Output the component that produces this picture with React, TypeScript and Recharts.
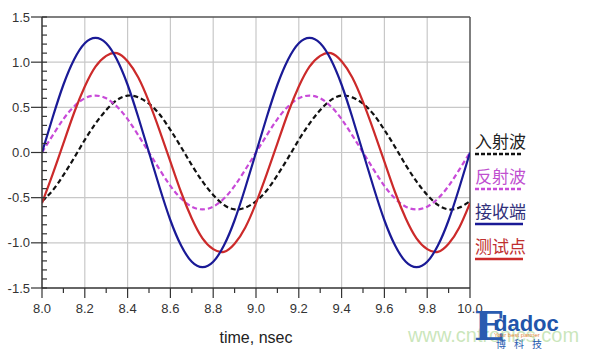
import { LineChart, Line, XAxis, YAxis, CartesianGrid, ReferenceLine, Label } from "recharts"

// time axis (ns), sampled every 0.05
const times = [
  8.0, 8.05, 8.1, 8.15, 8.2, 8.25, 8.3, 8.35, 8.4, 8.45,
  8.5, 8.55, 8.6, 8.65, 8.7, 8.75, 8.8, 8.85, 8.9, 8.95,
  9.0, 9.05, 9.1, 9.15, 9.2, 9.25, 9.3, 9.35, 9.4, 9.45,
  9.5, 9.55, 9.6, 9.65, 9.7, 9.75, 9.8, 9.85, 9.9, 9.95,
  10.0,
]

// 入射波
const incident = [
  -0.54, -0.42, -0.25, -0.06, 0.14, 0.32, 0.47, 0.58, 0.63, 0.61,
  0.54, 0.42, 0.25, 0.06, -0.14, -0.32, -0.47, -0.58, -0.63, -0.61,
  -0.54, -0.42, -0.25, -0.06, 0.14, 0.32, 0.47, 0.58, 0.63, 0.61,
  0.54, 0.42, 0.25, 0.06, -0.14, -0.32, -0.47, -0.58, -0.63, -0.61,
  -0.54,
]

// 反射波
const reflected = [
  0, 0.19, 0.37, 0.51, 0.6, 0.63, 0.6, 0.51, 0.37, 0.19,
  0, -0.19, -0.37, -0.51, -0.6, -0.63, -0.6, -0.51, -0.37, -0.19,
  0, 0.19, 0.37, 0.51, 0.6, 0.63, 0.6, 0.51, 0.37, 0.19,
  0, -0.19, -0.37, -0.51, -0.6, -0.63, -0.6, -0.51, -0.37, -0.19,
  0,
]

// 接收端
const receiver = [
  0, 0.39, 0.75, 1.03, 1.21, 1.27, 1.21, 1.03, 0.75, 0.39,
  0, -0.39, -0.75, -1.03, -1.21, -1.27, -1.21, -1.03, -0.75, -0.39,
  0, 0.39, 0.75, 1.03, 1.21, 1.27, 1.21, 1.03, 0.75, 0.39,
  0, -0.39, -0.75, -1.03, -1.21, -1.27, -1.21, -1.03, -0.75, -0.39,
  0,
]

// 测试点
const testPoint = [
  -0.56, -0.24, 0.1, 0.44, 0.73, 0.95, 1.07, 1.1, 1.01, 0.83,
  0.56, 0.24, -0.1, -0.44, -0.73, -0.95, -1.07, -1.1, -1.01, -0.83,
  -0.56, -0.24, 0.1, 0.44, 0.73, 0.95, 1.07, 1.1, 1.01, 0.83,
  0.56, 0.24, -0.1, -0.44, -0.73, -0.95, -1.07, -1.1, -1.01, -0.83,
  -0.56,
]

const xTicks = [
  8.0, 8.1, 8.2, 8.3, 8.4, 8.5, 8.6, 8.7, 8.8, 8.9,
  9.0, 9.1, 9.2, 9.3, 9.4, 9.5, 9.6, 9.7, 9.8, 9.9, 10.0,
]
const xMajor = [8.2, 8.4, 8.6, 8.8, 9.0, 9.2, 9.4, 9.6, 9.8]

const yTicks = [
  -1.5, -1.4, -1.3, -1.2, -1.1, -1.0, -0.9, -0.8, -0.7, -0.6,
  -0.5, -0.4, -0.3, -0.2, -0.1, 0, 0.1, 0.2, 0.3, 0.4,
  0.5, 0.6, 0.7, 0.8, 0.9, 1.0, 1.1, 1.2, 1.3, 1.4, 1.5,
]
const yMajor = [-1.0, -0.5, 0, 0.5, 1.0]

const series = [
  { key: "incident", name: "入射波", color: "#111111", text: "#222222", dash: "5 3" },
  { key: "reflected", name: "反射波", color: "#c84ad8", text: "#c050d0", dash: "5 3" },
  { key: "testPoint", name: "测试点", color: "#cc2a2a", text: "#c03030", dash: undefined },
  { key: "receiver", name: "接收端", color: "#1a1a96", text: "#30307a", dash: undefined },
]
const legendOrder = ["incident", "reflected", "receiver", "testPoint"]

const data = times.map((t, i) => ({
  t,
  incident: incident[i],
  reflected: reflected[i],
  receiver: receiver[i],
  testPoint: testPoint[i],
}))

const X_MIN = 8
const X_MAX = 10
const Y_MIN = -1.5
const Y_MAX = 1.5

const XTick = (props: any) => {
  const { x, y, payload } = props
  const v = payload.value as number
  const major = Math.round(v * 10) % 2 === 0
  return (
    <g>
      <line x1={x} x2={x} y1={y} y2={y + (major ? 10 : 5)} stroke="#333" strokeWidth={1.2} />
      {major && (
        <text x={x} y={y + 25} textAnchor="middle" fontSize={13} fill="#333">
          {v.toFixed(1)}
        </text>
      )}
    </g>
  )
}

const YTick = (props: any) => {
  const { x, y, payload } = props
  const v = payload.value as number
  const major = Math.round(v * 10) % 5 === 0
  if (!major) {
    return <line x1={x} x2={x + 5} y1={y} y2={y} stroke="#333" strokeWidth={1.2} />
  }
  return (
    <g>
      <line x1={x - 11} x2={x + 5} y1={y} y2={y} stroke="#333" strokeWidth={1.2} />
      <text x={x - 12} y={y + 4.5} textAnchor="end" fontSize={13} fill="#333">
        {v.toFixed(1)}
      </text>
    </g>
  )
}

export default function App() {
  return (
    <div
      style={{
        position: "absolute",
        left: 0,
        top: 0,
        width: 592,
        height: 354,
        background: "#fff",
        fontFamily: '"Liberation Sans", Arial, sans-serif',
        overflow: "hidden",
      }}
    >
      <LineChart width={592} height={354} data={data} margin={{ top: 17, right: 122, bottom: 0, left: 0 }}>
        <CartesianGrid
          stroke="#c8c8c8"
          strokeWidth={1.2}
          verticalCoordinatesGenerator={({ offset }: any) =>
            xMajor.map((v) => offset.left + ((v - X_MIN) / (X_MAX - X_MIN)) * offset.width)
          }
          horizontalCoordinatesGenerator={({ offset }: any) =>
            yMajor.map((v) => offset.top + ((Y_MAX - v) / (Y_MAX - Y_MIN)) * offset.height)
          }
        />
        <XAxis
          dataKey="t"
          type="number"
          domain={[X_MIN, X_MAX]}
          ticks={xTicks}
          interval={0}
          tickSize={0}
          tickMargin={0}
          tickLine={false}
          tick={XTick}
          height={66}
          stroke="#333"
          strokeWidth={1.5}
          allowDataOverflow
        >
          <Label value="time, nsec" position="insideBottom" offset={11} fontSize={16} fill="#222" />
        </XAxis>
        <YAxis
          type="number"
          domain={[Y_MIN, Y_MAX]}
          ticks={yTicks}
          interval={0}
          width={42}
          tickSize={0}
          tickMargin={0}
          tickLine={false}
          tick={YTick}
          stroke="#333"
          strokeWidth={1.5}
          allowDataOverflow
        />
        <ReferenceLine y={Y_MAX} stroke="#555" strokeWidth={1.5} />
        <ReferenceLine x={X_MAX} stroke="#555" strokeWidth={1.5} />
        {series.map((s) => (
          <Line
            key={s.key}
            dataKey={s.key}
            name={s.name}
            type="natural"
            stroke={s.color}
            strokeWidth={2.2}
            strokeDasharray={s.dash}
            dot={false}
            activeDot={false}
            isAnimationActive={false}
          />
        ))}
      </LineChart>

      <div style={{ position: "absolute", left: 475, top: 130 }}>
        {legendOrder.map((k) => {
          const s = series.find((x) => x.key === k)!
          return (
            <div key={k} style={{ position: "relative", height: 35, width: 60 }}>
              <div
                style={{
                  fontFamily: '"Noto Sans CJK SC", sans-serif',
                  fontSize: 17,
                  lineHeight: "22px",
                  color: s.text,
                }}
              >
                {s.name}
              </div>
              <svg width={50} height={4} style={{ position: "absolute", left: 0, top: 22 }}>
                <line x1={0} x2={48} y1={2} y2={2} stroke={s.color} strokeWidth={2.5} strokeDasharray={s.dash ? "4 2" : undefined} />
              </svg>
            </div>
          )
        })}
      </div>

      <div
        style={{
          position: "absolute",
          left: 408,
          top: 324,
          fontSize: 20,
          color: "rgba(150, 205, 120, 0.5)",
          whiteSpace: "nowrap",
        }}
      >
        www.cntronics.com
      </div>
      <div style={{ position: "absolute", left: 474, top: 306, color: "#2a5cb0", fontFamily: '"DejaVu Serif", serif', fontWeight: 700, fontSize: 40, lineHeight: "40px" }}>
        E
      </div>
      <div style={{ position: "absolute", left: 494, top: 313, color: "#2255aa", fontWeight: 700, fontSize: 22, lineHeight: "22px" }}>
        dadoc
      </div>
      <div style={{ position: "absolute", left: 494, top: 332, color: "#e08a40", fontSize: 6, lineHeight: "6px", whiteSpace: "nowrap" }}>
        Your best partner
      </div>
      <div style={{ position: "absolute", left: 496, top: 338, color: "#2a5cb0", fontFamily: '"Noto Sans CJK SC", sans-serif', fontSize: 10, lineHeight: "12px", letterSpacing: 8 }}>
        博科技
      </div>
    </div>
  )
}
